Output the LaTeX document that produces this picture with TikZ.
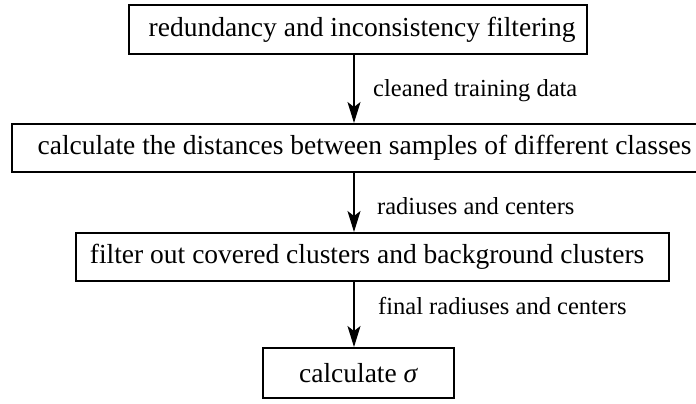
\documentclass[tikz,border=0pt]{standalone}
\usepackage{fontspec}
\setmainfont{Liberation Serif}
\usetikzlibrary{arrows.meta}
\tikzset{
  stepbox/.style={draw=black, line width=2.2bp, inner sep=0pt, anchor=north west,
    font=\fontsize{27.5bp}{30bp}\selectfont},
  flow/.style={line width=1.1bp, -{Stealth[length=21bp,width=13bp,inset=5bp]}},
  flowlabel/.style={anchor=base west, inner sep=0pt, font=\fontsize{24.5bp}{27bp}\selectfont}
}
\begin{document}
\begin{tikzpicture}[x=1bp,y=-1bp]
\useasboundingbox (0,0) rectangle (696,403);
\node[stepbox, minimum width=458bp, minimum height=49bp] (b1) at (128,4)
  {\hspace*{8bp}redundancy and inconsistency filtering};
\node[stepbox, minimum width=685bp, minimum height=48bp] (b2) at (11,123)
  {\hspace*{20bp}calculate the distances between samples of different classes};
\node[stepbox, minimum width=593bp, minimum height=48bp] (b3) at (75,232)
  {filter out covered clusters and background clusters\hspace*{11bp}};
\node[stepbox, minimum width=191bp, minimum height=50bp] (b4) at (262,347)
  {calculate \textit{σ}};
\coordinate (axis) at (354,0);
\draw[flow] (b1.south -| axis) -- (b2.north -| axis);
\draw[flow] (b2.south -| axis) -- (b3.north -| axis);
\draw[flow] (b3.south -| axis) -- (b4.north -| axis);
\node[flowlabel] (l1) at (373,96) {cleaned training data};
\node[flowlabel] (l2) at (377,214) {radiuses and centers};
\node[flowlabel] (l3) at (378,314) {final radiuses and centers};
\end{tikzpicture}
\end{document}
